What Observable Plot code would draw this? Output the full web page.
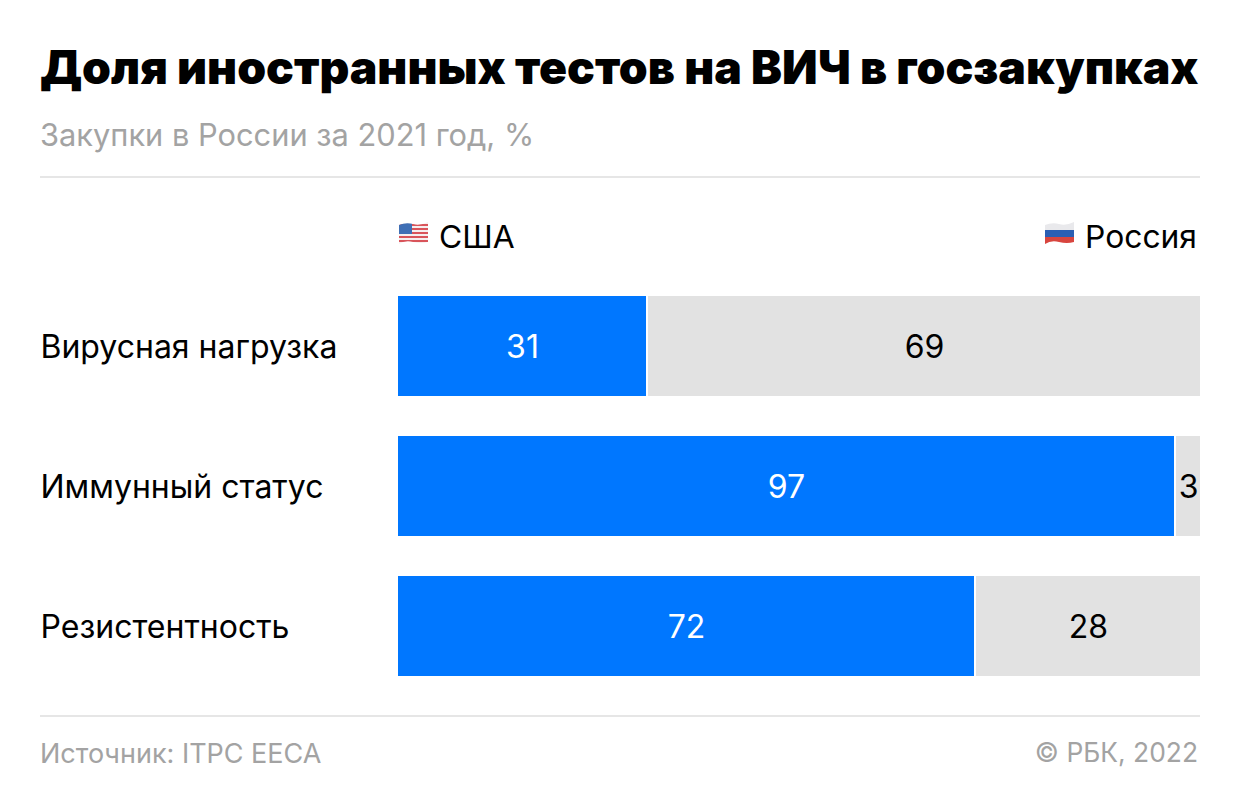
<!DOCTYPE html>
<html lang="ru">
<head>
<meta charset="utf-8">
<script src="https://cdn.jsdelivr.net/npm/d3@7"></script>
<script src="https://cdn.jsdelivr.net/npm/@observablehq/plot@0.6"></script>
<style>
html,body{margin:0;padding:0;background:#fff;width:1240px;height:812px;overflow:hidden;font-family:Inter,"Noto Sans",sans-serif;}
.t{position:absolute;white-space:nowrap;line-height:1;}
#title{left:40px;top:44px;font-size:46.3px;font-weight:900;color:#000;letter-spacing:0;}
#sub{left:40px;top:120px;font-size:30.8px;color:#a3a3a3;}
.rule{position:absolute;left:40px;width:1160px;height:2px;background:#e6e6e6;}
.leg{top:221px;font-size:31.8px;color:#000;display:flex;align-items:center;}
.leg svg{margin-right:10px;margin-top:-7px;}
#src{left:40px;top:740px;font-size:27px;color:#a3a3a3;}
#copy{right:42px;top:739px;font-size:26.4px;color:#a3a3a3;}
#chart{position:absolute;left:0;top:276px;}
#chart svg{display:block;}
</style>
</head>
<body>
<div class="t" id="title">Доля иностранных тестов на ВИЧ в госзакупках</div>
<div class="t" id="sub">Закупки в России за 2021 год, %</div>
<div class="rule" style="top:176px"></div>
<div class="t leg" style="left:398px">
  <svg width="31" height="24" viewBox="0 0 31 24">
    <defs><clipPath id="fu"><path d="M1 4 Q8 1 15 3 T30 1 V21 Q23 23 15 21 T1 23Z"/></clipPath></defs>
    <g clip-path="url(#fu)">
      <rect width="31" height="24" fill="#f6eeee"/>
      <path d="M0 4 H31 M0 8 H31 M0 12 H31 M0 16 H31 M0 20 H31" stroke="#d9545a" stroke-width="1.8"/>
      <rect width="14" height="13" fill="#3f6fb5"/>
    </g>
  </svg>США
</div>
<div class="t leg" style="right:43px">
  <svg width="31" height="24" viewBox="0 0 31 24">
    <defs><clipPath id="fr"><path d="M1 4 Q8 1 15 3 T30 1 V21 Q23 23 15 21 T1 23Z"/></clipPath></defs>
    <g clip-path="url(#fr)">
      <rect width="31" height="10" fill="#e9e9ec"/>
      <rect y="9" width="31" height="7" fill="#2b5fb3"/>
      <rect y="16" width="31" height="8" fill="#d8453e"/>
    </g>
  </svg>Россия
</div>
<div id="chart"></div>
<div class="rule" style="top:715px"></div>
<div class="t" id="src">Источник: ITPC EECA</div>
<div class="t" id="copy">© РБК, 2022</div>
<script>
const categories = ["Вирусная нагрузка", "Иммунный статус", "Резистентность"];
const usa = [31, 97, 72];
const russia = [69, 3, 28];

const rows = categories.map((category, i) => ({category, usa: usa[i], russia: russia[i]}));

const chart = Plot.plot({
  width: 1240,
  height: 420,
  marginTop: 0,
  marginBottom: 0,
  marginLeft: 0,
  marginRight: 0,
  style: {background: "transparent", fontFamily: "Inter, 'Noto Sans', sans-serif", fontSize: "32px"},
  x: {domain: [0, 100], range: [399, 1199], axis: null},
  y: {domain: categories, range: [0, 420], paddingInner: 2 / 7, paddingOuter: 1 / 7, label: null},
  marks: [
    Plot.barX(rows, {y: "category", x1: 0, x2: "usa", fill: "#0077ff", dx: -1}),
    Plot.barX(rows, {y: "category", x1: "usa", x2: d => d.usa + d.russia, fill: "#e2e2e2", dx: 1}),
    Plot.text(rows, {y: "category", x: d => d.usa / 2, text: d => String(d.usa), fill: "#fff", dx: -1, dy: 1, fontSize: 32}),
    Plot.text(rows, {y: "category", x: d => d.usa + d.russia / 2, text: d => String(d.russia), fill: "#000", dx: 1, dy: 1, fontSize: 32}),
    Plot.axisY({anchor: "left", tickSize: 0, tickPadding: 0, label: null, textAnchor: "start", dx: 40, dy: 1, fontSize: 32, fill: "#000"})
  ]
});
document.getElementById("chart").appendChild(chart);
</script>
</body>
</html>
